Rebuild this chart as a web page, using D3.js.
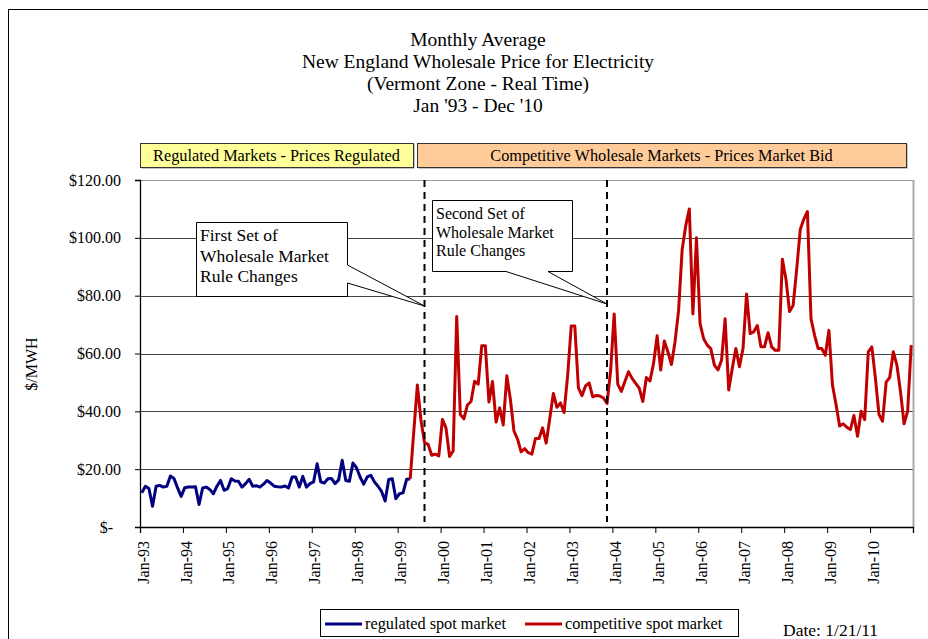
<!DOCTYPE html>
<html>
<head>
<meta charset="utf-8">
<script src="https://cdn.jsdelivr.net/npm/d3@7"></script>
<style>
  body { margin: 0; background: #fff; }
  svg { display: block; font-family: "Liberation Serif", "Times New Roman", serif; }
</style>
</head>
<body>
<div id="chart"></div>
<script>
// ---- data (monthly averages, $/MWh, month 0 = Jan-93) ----
const titleLines = ["Monthly Average", "New England Wholesale Price for Electricity",
  "(Vermont Zone - Real Time)", "Jan '93 - Dec '10"];
const yTicks = [0, 20, 40, 60, 80, 100, 120];
const yearLabels = ["Jan-93", "Jan-94", "Jan-95", "Jan-96", "Jan-97", "Jan-98", "Jan-99", "Jan-00",
  "Jan-01", "Jan-02", "Jan-03", "Jan-04", "Jan-05", "Jan-06", "Jan-07", "Jan-08", "Jan-09", "Jan-10"];
const monthCount = 216;

const regulatedStart = 0;
const regulated = [
  11.8, 14.1, 13.3, 7.2, 14.1, 14.4, 13.8, 14.1, 17.6, 16.8, 13.5, 10.6,
  13.6, 13.8, 13.8, 13.9, 7.8, 13.5, 13.8, 13.0, 11.5, 14.1, 16.1, 12.7,
  13.3, 16.7, 15.9, 15.8, 13.8, 15.0, 16.5, 14.1, 14.3, 13.8, 14.8, 16.1,
  15.2, 14.1, 13.9, 13.8, 14.2, 13.5, 17.3, 17.3, 13.8, 17.5, 13.8, 15.0,
  15.6, 21.9, 15.6, 15.2, 16.7, 16.8, 15.0, 16.3, 23.1, 16.1, 15.8, 22.1,
  20.5, 17.3, 14.8, 17.3, 17.9, 15.6, 14.1, 12.3, 9.0, 16.4, 16.7, 9.8,
  11.5, 11.8, 16.5, 16.6
];

const competitiveStart = 75;
const competitive = [
  16.6, 33.0, 49.1, 37.0, 29.2, 28.6, 24.8, 25.2, 24.6,
  37.2, 34.3, 24.4, 26.3, 72.8, 38.9, 37.4, 42.2, 43.4, 50.4, 49.4, 62.7,
  62.7, 43.2, 50.3, 36.3, 41.2, 35.3, 52.3, 44.1, 33.2, 30.4, 26.0, 27.1,
  25.7, 25.2, 30.6, 30.6, 34.3, 29.0, 37.5, 46.2, 41.4, 42.9, 39.6, 52.4,
  69.5, 69.5, 48.1, 45.4, 48.8, 49.8, 45.0, 45.5, 45.3, 44.6, 42.7, 54.0,
  73.7, 49.4, 46.9, 50.3, 53.7, 51.4, 49.7, 48.0, 43.4, 51.7, 50.5, 56.6,
  66.1, 54.3, 64.3, 60.6, 56.2, 64.0, 74.9, 96.0, 104.2, 110.0, 73.7, 100.0,
  70.3, 65.1, 62.9, 61.7, 56.0, 54.3, 57.7, 72.0, 47.4, 54.9, 61.7, 55.4,
  61.7, 80.6, 66.9, 67.5, 69.7, 62.3, 62.3, 67.2, 62.3, 61.1, 61.1, 92.6,
  85.7, 74.5, 76.6, 89.1, 102.9, 106.5, 109.1, 72.0, 66.3, 61.7, 61.7, 59.4,
  68.0, 49.1, 42.3, 34.9, 35.7, 34.5, 33.7, 38.6, 31.4, 40.0, 37.1, 60.6,
  62.3, 51.4, 38.9, 36.6, 50.1, 51.7, 60.6, 56.0, 46.9, 35.7, 40.0, 62.9
];

const ruleChangeMonths = [79, 130];
const legendNames = ["regulated spot market", "competitive spot market"];
const seriesColors = ["#000080", "#c00000"];

// ---- layout ----
const width = 928, height = 639;
const plot = { left: 140, right: 913, top: 180, bottom: 527 };

const svg = d3.select("#chart").append("svg")
  .attr("width", width)
  .attr("height", height);

// outer frame (runs off the right and bottom edges)
svg.append("rect")
  .attr("x", 8.5).attr("y", 9.5)
  .attr("width", 940).attr("height", 660)
  .attr("fill", "none").attr("stroke", "#000").attr("stroke-width", 1);

// Title
svg.append("g").selectAll("text")
  .data(titleLines)
  .join("text")
  .attr("x", 478)
  .attr("y", (d, i) => 46 + i * 22)
  .attr("text-anchor", "middle")
  .style("font-size", "19.5px")
  .text(d => d);

const x = d3.scaleLinear().domain([0, monthCount]).range([plot.left, plot.right]);
const y = d3.scaleLinear().domain([0, 120]).range([plot.bottom, plot.top]);
const px = i => x(i + 0.5);

// Period banners
const banners = [
  { text: "Regulated Markets - Prices Regulated", x0: 140, x1: 413, fill: "#ffff99" },
  { text: "Competitive Wholesale Markets - Prices Market Bid", x0: 417, x1: 906, fill: "#ffcc99" }
];
banners.forEach(b => {
  svg.append("rect")
    .attr("x", b.x0 + 1.5).attr("y", 144.5)
    .attr("width", b.x1 - b.x0).attr("height", 24)
    .attr("fill", "#888");
  svg.append("rect")
    .attr("x", b.x0 + 0.5).attr("y", 143.5)
    .attr("width", b.x1 - b.x0).attr("height", 24)
    .attr("fill", b.fill).attr("stroke", "#333").attr("stroke-width", 1);
  svg.append("text")
    .attr("x", (b.x0 + b.x1) / 2).attr("y", 161)
    .attr("text-anchor", "middle")
    .style("font-size", "16.3px")
    .text(b.text);
});

// Gridlines
svg.append("g").selectAll("line")
  .data(yTicks.filter(d => d > 0))
  .join("line")
  .attr("x1", plot.left).attr("x2", plot.right)
  .attr("y1", d => Math.round(y(d)) + 0.5).attr("y2", d => Math.round(y(d)) + 0.5)
  .attr("stroke", d => d === 120 ? "#999" : "#444").attr("stroke-width", 1.2);

// right plot border
svg.append("line")
  .attr("x1", plot.right + 0.5).attr("x2", plot.right + 0.5)
  .attr("y1", plot.top).attr("y2", plot.bottom)
  .attr("stroke", "#aaa").attr("stroke-width", 2);

// Y axis
const yAxis = svg.append("g")
  .attr("transform", `translate(${plot.left},0)`)
  .call(d3.axisLeft(y).tickValues(yTicks).tickSize(5).tickPadding(14)
    .tickFormat(d => d === 0 ? "$-" : "$" + d.toFixed(2)));
yAxis.select(".domain").attr("stroke", "#000").attr("stroke-width", 1.3);
yAxis.selectAll(".tick line").attr("stroke", "#000");
yAxis.selectAll(".tick text")
  .style("font-family", "'Liberation Serif', serif")
  .style("font-size", "16px")
  .attr("fill", "#000")
  .attr("dx", d => d === 0 ? -8 : 0);

svg.append("text")
  .attr("transform", "translate(37,364) rotate(-90)")
  .attr("text-anchor", "middle")
  .style("font-size", "16px")
  .text("$/MWH");

// X axis
const yearTicks = d3.range(0, monthCount + 1, 12);
const xAxis = svg.append("g")
  .attr("transform", `translate(0,${plot.bottom})`)
  .call(d3.axisBottom(x).tickValues(yearTicks).tickSize(6).tickFormat(""));
xAxis.select(".domain").attr("stroke", "#000").attr("stroke-width", 1.3);
xAxis.selectAll(".tick line").attr("stroke", "#000");

svg.append("g").selectAll("text")
  .data(yearLabels)
  .join("text")
  .attr("transform", (d, i) => `translate(${x(i * 12) + 3},541) rotate(-90)`)
  .attr("text-anchor", "end")
  .attr("dy", "0.35em")
  .style("font-size", "16px")
  .text(d => d);

// Series lines
const line = d3.line().x(d => px(d.i)).y(d => y(d.v));
const series = [
  regulated.map((v, k) => ({ i: regulatedStart + k, v })),
  competitive.map((v, k) => ({ i: competitiveStart + k, v }))
];
svg.append("g").selectAll("path")
  .data(series)
  .join("path")
  .attr("fill", "none")
  .attr("stroke", (d, i) => seriesColors[i])
  .attr("stroke-width", 3)
  .attr("stroke-linejoin", "round")
  .attr("d", line);

// Rule change markers
svg.append("g").selectAll("line")
  .data(ruleChangeMonths)
  .join("line")
  .attr("x1", d => px(d)).attr("x2", d => px(d))
  .attr("y1", plot.top).attr("y2", 522)
  .attr("stroke", "#000").attr("stroke-width", 2)
  .attr("stroke-dasharray", "7,5");

// Callouts
const tip1 = [px(ruleChangeMonths[0]), 306];
const tip2 = [px(ruleChangeMonths[1]), 304];
const callouts = [
  {
    path: `M196.5,222.5 H347.5 V265 L${tip1[0]},${tip1[1]} L347.5,283 V296.5 H196.5 Z`,
    lines: ["First Set of", "Wholesale Market", "Rule Changes"],
    tx: 200, ty: 241, dy: 20.5, size: 17.5
  },
  {
    path: `M432.5,200.5 H572.5 V271.5 H548 L${tip2[0]},${tip2[1]} L506,271.5 H432.5 Z`,
    lines: ["Second Set of", "Wholesale Market", "Rule Changes"],
    tx: 436, ty: 219, dy: 18.5, size: 16
  }
];
callouts.forEach(c => {
  svg.append("path")
    .attr("d", c.path)
    .attr("fill", "#fff").attr("stroke", "#000").attr("stroke-width", 1);
  svg.append("g").selectAll("text")
    .data(c.lines)
    .join("text")
    .attr("x", c.tx)
    .attr("y", (d, i) => c.ty + i * c.dy)
    .style("font-size", c.size + "px")
    .text(d => d);
});

// Legend
const legend = svg.append("g");
legend.append("rect")
  .attr("x", 320.5).attr("y", 609.5)
  .attr("width", 418).attr("height", 27)
  .attr("fill", "#fff").attr("stroke", "#000").attr("stroke-width", 1);
const legendX = [325, 525];
legendNames.forEach((name, i) => {
  legend.append("line")
    .attr("x1", legendX[i]).attr("x2", legendX[i] + 37)
    .attr("y1", 624).attr("y2", 624)
    .attr("stroke", seriesColors[i]).attr("stroke-width", 3);
  legend.append("text")
    .attr("x", legendX[i] + 40).attr("y", 629)
    .style("font-size", "16.3px")
    .text(name);
});

svg.append("text")
  .attr("x", 783).attr("y", 636)
  .style("font-size", "17.5px")
  .text("Date: 1/21/11");
</script>
</body>
</html>
